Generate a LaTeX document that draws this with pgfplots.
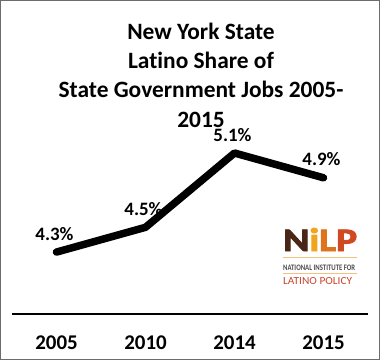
\documentclass[border=0pt]{standalone}
\usepackage{pgfplots}
\pgfplotsset{compat=1.18}
\usepackage{fontspec}
\setmainfont{Carlito}[Ligatures=NoCommon]
\newfontfamily\logofont{Carlito}[Ligatures=NoCommon, UprightFont=*-Bold, FakeBold=2.5]
\definecolor{nilpN}{HTML}{4A2616}
\definecolor{nilpI}{HTML}{EFA51E}
\definecolor{nilpL}{HTML}{DD731C}
\definecolor{nilpP}{HTML}{CF4A22}
\definecolor{nilpRed}{HTML}{C8432D}
\definecolor{nilpLine}{HTML}{F2C27E}
\begin{document}
\begin{tikzpicture}[x=1bp,y=1bp]
\useasboundingbox (0,0) rectangle (380,360);
\draw[gray!85!black, line width=1bp] (0.5,0.5) rectangle (379.5,359.5);
% title
\begin{scope}[every node/.style={font=\fontsize{23.5}{28}\selectfont\bfseries, inner sep=0pt, anchor=base}]
\node at (201,320.7) {New York State};
\node at (201,292) {Latino Share of};
\node at (201,262.7) {State Government Jobs 2005-};
\node at (201,233) {2015};
\end{scope}
\begin{axis}[
  at={(12bp,46bp)}, anchor=south west,
  scale only axis, width=356bp, height=185.75bp,
  xmin=-0.5, xmax=3.5, ymin=3.8, ymax=5.3,
  axis x line=bottom, axis y line=none,
  x axis line style={-, line width=2.8bp, black},
  xtick={0,1,2,3}, xticklabels={2005,2010,2014,2015},
  major tick length=0pt, ytick=\empty,
  xticklabel style={font=\fontsize{21}{24}\selectfont\bfseries, anchor=base, yshift=-36bp},
  point meta=explicit symbolic,
  nodes near coords,
  nodes near coords style={font=\fontsize{19}{22}\selectfont\bfseries, anchor=base, yshift=12bp, xshift=-2bp, inner sep=0pt},
  clip=false,
]
\addplot[black, line width=7.5bp, line cap=round, line join=round, mark=none]
  coordinates {(0,4.3) [4.3\%] (1,4.5) [4.5\%] (2,5.1) [5.1\%] (3,4.9) [4.9\%]};
\end{axis}
% logo
\begin{scope}[every node/.style={inner sep=0pt, anchor=base west}]
\node at (283,109) {\resizebox{74bp}{23bp}{\logofont\textcolor{nilpN}{N}\textcolor{nilpI}{i}\textcolor{nilpL}{L}\textcolor{nilpP}{P}}};
\draw[nilpLine, line width=1bp] (283,102) -- (357,102);
\node at (283,90) {\resizebox{72bp}{5.5bp}{\bfseries\textcolor{black!70}{NATIONAL INSTITUTE FOR}}};
\draw[nilpLine, line width=1bp] (283,86) -- (357,86);
\node at (283,75) {\resizebox{69bp}{7bp}{\textcolor{nilpRed}{LATINO POLICY}}};
\end{scope}
\end{tikzpicture}
\end{document}
